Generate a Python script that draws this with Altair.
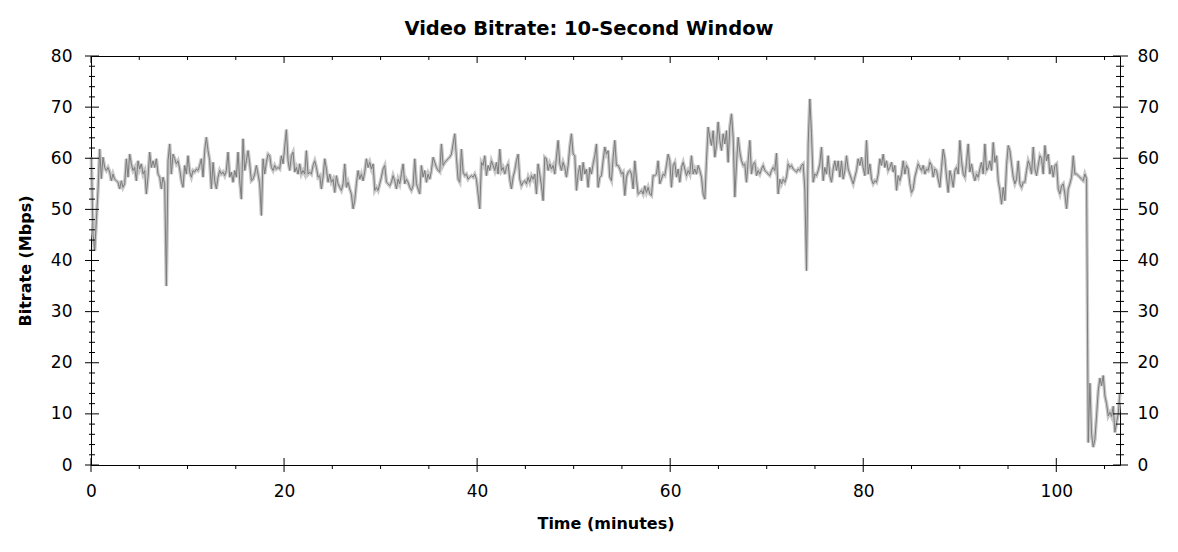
import altair as alt
import pandas as pd

# ---- data (Mbps, one sample per ~10 s window) ----
START_MIN = 0.035
STEP_MIN = 0.1727

seg_a = [
    60.2, 45.2, 41.9, 47.8, 53.7, 61.8, 56.0, 60.2, 58.2, 57.6,
    58.2, 57.3, 55.6, 56.9, 55.9, 55.6, 55.3, 54.0, 55.6, 54.3,
    55.0, 59.9, 56.3, 60.8, 58.9, 57.6, 58.2, 55.6, 59.5, 57.9,
    58.9, 56.9, 57.6, 53.0, 56.3, 61.2, 58.2, 59.5, 58.2, 59.9,
    56.9, 56.3, 54.0, 56.3, 55.0, 35.0, 59.5, 62.8, 56.9, 60.8,
    59.9, 58.9, 59.5, 57.9, 55.6, 54.3, 58.6, 56.9, 60.5, 57.3,
    56.3, 57.6, 57.3, 57.9, 57.6, 58.6, 59.9, 56.3, 61.5, 64.1,
    61.5, 59.5, 54.0, 59.2, 55.6, 54.0, 56.3, 57.6, 56.9, 57.3,
    56.6, 57.6, 61.2, 56.3, 57.3, 55.3, 57.6, 56.3, 61.2, 55.6,
    52.0, 63.8, 57.6, 59.5, 61.5, 58.9, 55.6, 55.9, 56.9, 58.6,
    56.9, 55.0, 48.8, 59.9, 56.9, 59.2, 60.8, 60.5, 58.2, 57.6,
    58.6, 57.9, 58.2, 57.9, 60.5, 58.9, 62.2, 65.6, 59.5, 57.6,
    60.5, 61.2, 57.3, 58.2, 56.9, 58.9, 56.9, 57.6, 56.9, 61.5,
    56.9, 57.3, 56.9, 58.6, 59.5, 58.2, 56.3, 56.6, 54.0, 56.3,
    59.9, 57.9, 55.3, 56.9, 55.3, 55.9, 53.3, 56.6, 55.0, 54.3,
    53.7, 55.0, 58.9, 54.3, 55.3, 54.0,
]
seg_b = [
    53.0, 50.1, 51.7, 55.0, 57.6, 55.9, 56.9, 55.6, 57.3, 59.9,
    58.2, 59.2, 57.9, 58.9, 53.7, 54.3, 53.7, 55.0, 56.3, 57.9,
    58.6, 55.3, 55.0, 54.6, 55.3, 56.6, 55.6, 54.0, 55.9, 55.0,
    56.9, 58.9, 55.0, 55.9, 55.3, 54.3, 53.7, 54.6, 59.9, 55.0,
    54.0, 53.0, 58.6, 56.3, 57.6, 55.3, 56.9, 55.9, 57.6, 60.2,
    59.2, 58.2, 57.6, 57.3, 62.8, 58.6, 59.2, 59.5, 59.9, 60.2,
    60.8, 62.8, 64.8, 60.2, 55.9, 55.3, 61.8, 57.3, 56.6, 56.9,
    55.9, 56.3, 56.6, 56.3, 56.9, 55.9, 53.0, 50.1, 59.2, 58.6,
    60.5, 56.6, 58.6, 57.6, 59.5, 58.6, 57.6, 59.2, 56.9, 61.8,
    57.6, 58.2, 56.9, 58.2, 58.9, 55.9, 54.0, 56.3, 57.6, 59.5,
    60.8, 55.9, 54.6, 55.3, 55.6, 55.0, 56.3, 55.3, 56.6, 55.9,
    56.9, 53.0, 58.9, 56.9, 54.6, 51.7, 60.2, 59.9, 57.6, 58.9,
    57.9, 58.6, 56.9, 60.2, 63.5, 58.9, 57.6, 59.2, 58.2, 56.3,
    58.6, 62.2, 64.8, 60.8, 60.5, 53.7, 56.9, 58.6, 55.6, 59.2,
    56.9, 57.9, 54.3, 58.2, 56.9, 58.9, 60.5, 62.8, 54.3, 56.3,
    56.6, 59.5, 62.2, 60.8,
]
seg_c = [
    61.5, 56.3, 55.6, 60.2, 63.5, 58.6, 58.6, 57.9, 56.9, 57.3,
    52.7, 56.3, 57.3, 57.6, 56.9, 54.0, 59.5, 55.9, 53.0, 53.3,
    53.7, 53.0, 54.6, 53.3, 54.3, 53.0, 52.7, 56.6, 56.6, 56.9,
    59.5, 55.0, 55.9, 56.9, 56.6, 58.6, 60.8, 59.5, 54.3, 58.6,
    59.2, 56.3, 57.9, 55.3, 58.2, 59.2, 57.9, 56.6, 57.6, 56.9,
    60.5, 56.9, 57.9, 56.9, 58.6, 57.6, 56.3, 53.0, 52.0, 59.5,
    66.1, 64.1, 62.5, 65.4, 60.2, 62.5, 67.1, 63.5, 61.5, 64.8,
    62.8, 65.4, 59.2, 66.1, 68.7, 64.1, 52.4, 58.9, 64.1, 61.2,
    59.5, 58.6, 58.9, 55.3, 59.5, 63.5, 56.9, 58.9, 59.2, 56.6,
    57.6, 56.9, 57.9, 58.6, 57.6, 57.3, 56.9, 56.6, 57.6, 58.2,
    57.6, 61.0, 53.0, 55.9, 55.0, 55.9, 55.3, 56.3, 58.9, 58.2,
    58.6, 57.9, 57.6, 57.3, 57.9, 57.6, 58.6, 58.9, 54.0, 38.0,
    62.8, 71.6, 64.8, 55.3, 56.9, 56.6, 57.6, 58.9, 62.2, 55.6,
    58.2, 56.9, 60.5, 56.6, 55.3, 57.9, 59.5, 57.6, 59.5, 56.3,
    59.5, 55.9, 57.6, 60.5, 57.9, 56.9, 55.9, 55.0, 56.3, 57.6,
    59.9, 58.6, 60.2, 58.2,
]
seg_d = [
    56.6, 63.5, 56.9, 58.9, 55.9, 55.0, 55.6, 55.3, 56.9, 59.9,
    58.6, 60.8, 58.2, 59.5, 57.6, 58.2, 59.2, 57.3, 58.6, 53.7,
    56.6, 55.6, 56.9, 59.5, 56.9, 58.6, 57.9, 55.0, 53.3, 54.0,
    56.3, 57.6, 58.9, 58.2, 57.6, 58.6, 56.9, 57.9, 57.6, 59.2,
    58.6, 56.3, 57.9, 57.6, 55.9, 54.3, 58.2, 61.8, 59.9, 56.3,
    53.3, 57.6, 56.3, 54.3, 57.6, 58.2, 56.9, 63.5, 59.5, 56.9,
    56.3, 59.2, 62.8, 57.3, 58.9, 56.9, 55.6, 56.9, 56.3, 57.9,
    59.2, 56.9, 62.8, 57.6, 58.2, 59.5, 57.6, 63.1, 59.2, 60.5,
    55.6, 53.7, 51.0, 54.3, 51.7, 58.6, 62.5, 61.5, 58.9, 56.3,
    55.0, 55.9, 59.5, 55.0, 54.3, 55.3, 55.3, 57.6, 59.5, 58.6,
    56.9, 62.2, 57.9, 56.6, 58.6, 60.5, 59.9, 56.9, 62.5, 59.5,
    60.8, 56.9, 58.6, 56.3, 58.6, 58.9, 54.0, 53.0, 54.6, 55.0,
    53.0, 50.1, 54.0, 55.0, 56.3, 60.5, 56.9, 56.9, 56.6, 56.3,
    55.9, 55.6, 56.9,
]
seg_e = [
    56.0, 4.4, 16.0, 6.0, 3.5, 5.0, 9.6, 14.5, 17.0, 15.5,
    17.5, 13.5, 12.0, 9.6, 10.3, 9.5, 11.5, 6.4, 8.3, 10.0,
    14.0,
]

bitrate = seg_a + seg_b + seg_c + seg_d + seg_e
minutes = [round(START_MIN + i * STEP_MIN, 4) for i in range(len(bitrate))]

y_major = [0, 10, 20, 30, 40, 50, 60, 70, 80]
y_minor = [v for v in range(0, 81, 2) if v % 10]
x_major = [0, 20, 40, 60, 80, 100]
x_minor = [v for v in range(5, 106, 5) if v % 20]

TITLE = "Video Bitrate: 10-Second Window"
X_MAX = 106.6
W, H = 1029, 409
FONT = "DejaVu Sans"

df = pd.DataFrame({"t": minutes, "v": bitrate})
xscale = alt.Scale(domain=[0, X_MAX], nice=False, zero=False)
yscale = alt.Scale(domain=[0, 80], nice=False)

base = alt.Chart(df)

halo = base.mark_line(color="#c8c8c8", strokeWidth=3.5).encode(
    x=alt.X("t:Q", scale=xscale, axis=alt.Axis(
        orient="bottom", values=x_major, ticks=False, tickSize=0, domain=False,
        grid=False, labelFlush=False, labelFont=FONT, labelFontSize=17,
        labelColor="black", labelPadding=18, title="Time (minutes)",
        titleFont=FONT, titleFontSize=16, titleFontWeight="bold",
        titleColor="black", titleY=63, titleBaseline="alphabetic")),
    y=alt.Y("v:Q", scale=yscale, axis=alt.Axis(
        orient="left", values=y_major, ticks=False, tickSize=0, domain=False,
        grid=False, labelFlush=False, labelFont=FONT, labelFontSize=17,
        labelColor="black", labelPadding=19, title="Bitrate (Mbps)",
        titleFont=FONT, titleFontSize=16, titleFontWeight="bold",
        titleColor="black", titleX=-61, titleBaseline="alphabetic")),
)

line = base.mark_line(color="#7c7c7c", strokeWidth=1).encode(
    x=alt.X("t:Q", scale=xscale, axis=None),
    y=alt.Y("v:Q", scale=yscale, axis=alt.Axis(
        orient="right", values=y_major, ticks=False, tickSize=0, domain=False,
        grid=False, labelFlush=False, labelFont=FONT, labelFontSize=17,
        labelColor="black", labelPadding=17, title=None)),
)


def y_ticks(vals, x0, x1):
    return alt.Chart(pd.DataFrame({"v": vals})).mark_rule(
        color="black", strokeWidth=1).encode(
        y=alt.Y("v:Q", scale=yscale, axis=None),
        x=alt.value(x0), x2=alt.value(x1))


def x_ticks(vals, y0, y1):
    return alt.Chart(pd.DataFrame({"t": vals})).mark_rule(
        color="black", strokeWidth=1).encode(
        x=alt.X("t:Q", scale=xscale, axis=None),
        y=alt.value(y0), y2=alt.value(y1))


ticks = [
    y_ticks(y_major, -6, 8),
    y_ticks(y_minor, -2, 4),
    y_ticks(y_major, W - 7, W + 8),
    y_ticks(y_minor, W - 4, W + 4),
    x_ticks(x_major, H - 7, H + 7),
    x_ticks(x_minor, H, H + 4),
    x_ticks(x_major, 0, 7),
    x_ticks(x_minor, 0, 4),
]

title_text = alt.Chart(pd.DataFrame({"label": [TITLE]})).mark_text(
    font=FONT, fontSize=19.5, fontWeight="bold", color="black",
    align="center", baseline="alphabetic").encode(
    text="label:N", x=alt.value(498), y=alt.value(-21))

chart = alt.layer(halo, line, *ticks, title_text).resolve_axis(
    x="independent", y="independent"
).properties(
    width=W,
    height=H,
    autosize=alt.AutoSizeParams(type="none"),
    padding={"left": 83, "top": 48, "right": 50, "bottom": 79},
    background="white",
).configure_view(stroke="black", strokeWidth=1)

chart.save("out.html", embed_options={"renderer": "svg", "actions": False})
